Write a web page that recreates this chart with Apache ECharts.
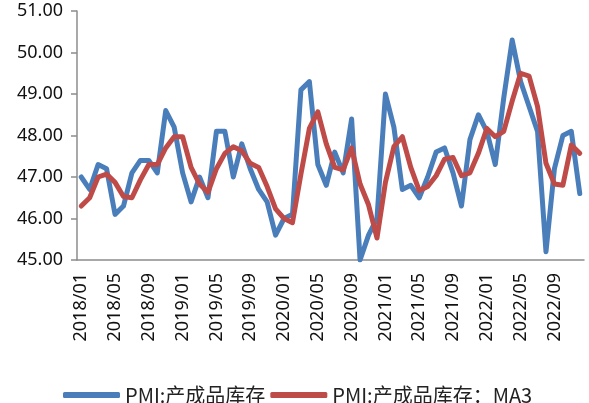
<!DOCTYPE html>
<html>
<head>
<meta charset="utf-8">
<script src="https://cdn.jsdelivr.net/npm/echarts@6/dist/echarts.min.js"></script>
<style>
  html, body { margin: 0; padding: 0; background: #fff; }
  #chart { width: 589px; height: 403px; }
</style>
</head>
<body>
<div id="chart"></div>
<script>
  // 月份 2018/01 - 2022/12
  var years = ['2018', '2019', '2020', '2021', '2022'];
  var months = ['01', '02', '03', '04', '05', '06', '07', '08', '09', '10', '11', '12'];
  var categories = [];
  for (var y = 0; y < years.length; y++) {
    for (var m = 0; m < months.length; m++) {
      categories.push(years[y] + '/' + months[m]);
    }
  }

  var seriesNames = ['PMI:产成品库存', 'PMI:产成品库存：MA3'];

  // PMI:产成品库存
  var inventory = [
    47.0, 46.7, 47.3, 47.2, 46.1, 46.3, 47.1, 47.4, 47.4, 47.1, 48.6, 48.2,
    47.1, 46.4, 47.0, 46.5, 48.1, 48.1, 47.0, 47.8, 47.2, 46.7, 46.4, 45.6,
    46.0, 46.1, 49.1, 49.3, 47.3, 46.8, 47.6, 47.1, 48.4, 45.0, 45.6, 46.0,
    49.0, 48.2, 46.7, 46.8, 46.5, 47.0, 47.6, 47.7, 47.1, 46.3, 47.9, 48.5,
    48.1, 47.3, 48.9, 50.3, 49.3, 48.7, 48.1, 45.2, 47.2, 48.0, 48.1, 46.6
  ];

  // PMI:产成品库存：MA3
  var inventoryMA3 = [
    46.3, 46.5, 47.0, 47.07, 46.87, 46.53, 46.5, 46.93, 47.3, 47.3, 47.7, 47.97,
    47.97, 47.23, 46.83, 46.63, 47.2, 47.57, 47.73, 47.63, 47.33, 47.23, 46.77, 46.23,
    46.0, 45.9, 47.07, 48.17, 48.57, 47.8, 47.23, 47.17, 47.7, 46.83, 46.33, 45.53,
    46.87, 47.73, 47.97, 47.23, 46.67, 46.77, 47.03, 47.43, 47.47, 47.03, 47.1, 47.57,
    48.17, 47.97, 48.1, 48.83, 49.5, 49.43, 48.7, 47.33, 46.83, 46.8, 47.77, 47.57
  ];

  var chart = echarts.init(document.getElementById('chart'));

  var option = {
    animation: false,
    backgroundColor: '#fff',
    grid: { left: 77, right: 5, top: 11, bottom: 143 },
    legend: {
      data: seriesNames,
      top: 380,
      left: 58,
      itemWidth: 57,
      itemHeight: 6,
      itemGap: 5,
      icon: 'roundRect',
      textStyle: { fontSize: 20, color: '#222', fontFamily: 'Noto Sans CJK SC' }
    },
    xAxis: {
      type: 'category',
      data: categories,
      boundaryGap: true,
      axisLine: { lineStyle: { color: '#8c8c8c', width: 1.5 } },
      axisTick: { interval: 3, length: 6, lineStyle: { color: '#8c8c8c', width: 1.5 } },
      axisLabel: {
        interval: 3,
        rotate: 90,
        margin: 13,
        fontSize: 18,
        color: '#111',
        fontFamily: 'Noto Sans'
      }
    },
    yAxis: {
      type: 'value',
      min: 45,
      max: 51,
      interval: 1,
      axisLine: { show: true, lineStyle: { color: '#8c8c8c', width: 1.5 } },
      axisTick: { show: true, length: 6, lineStyle: { color: '#8c8c8c', width: 1.5 } },
      splitLine: { show: false },
      axisLabel: {
        margin: 14,
        fontSize: 18,
        color: '#111',
        fontFamily: 'Noto Sans',
        formatter: function (v) { return v.toFixed(2); }
      }
    },
    series: [
      {
        name: seriesNames[0],
        type: 'line',
        data: inventory,
        symbol: 'none',
        color: '#4A7EBB',
        lineStyle: { width: 5, color: '#4A7EBB', cap: 'round', join: 'round' }
      },
      {
        name: seriesNames[1],
        type: 'line',
        data: inventoryMA3,
        symbol: 'none',
        color: '#BE4B48',
        lineStyle: { width: 5, color: '#BE4B48', cap: 'round', join: 'round' }
      }
    ]
  };

  chart.setOption(option);
</script>
</body>
</html>
